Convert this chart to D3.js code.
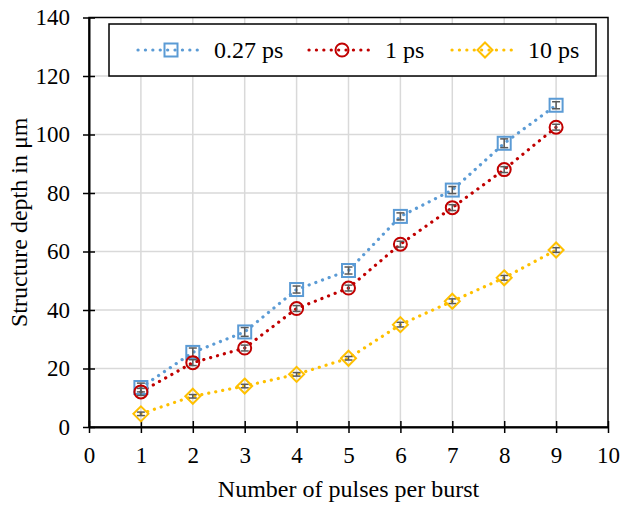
<!DOCTYPE html>
<html>
<head>
<meta charset="utf-8">
<script src="https://cdn.jsdelivr.net/npm/d3@7"></script>
<style>
  body { margin: 0; background: #fff; }
  svg text { font-family: "Liberation Serif", "Times New Roman", serif; fill: #000; }
</style>
</head>
<body>
<div id="chart"></div>
<script>
// data
var pulses = [1, 2, 3, 4, 5, 6, 7, 8, 9];
var depth027 = [13.5, 25.5, 32.5, 47, 53.5, 72, 81, 97, 110];
var depth1 = [12, 22, 27, 40.5, 47.5, 62.5, 75, 88, 102.5];
var depth10 = [4.5, 10.5, 14, 18, 23.5, 35, 43, 51, 60.5];
var err027 = [1.5, 1.5, 1.5, 1.2, 1.2, 1.2, 1.2, 1.5, 1.2];
var err1 = [1.2, 1, 1, 1, 1, 1, 1, 1, 1];
var err10 = [0.6, 0.6, 0.6, 0.6, 0.6, 0.8, 0.8, 0.8, 0.8];
var seriesNames = ["0.27 ps", "1 ps", "10 ps"];
var xTicks = [0, 1, 2, 3, 4, 5, 6, 7, 8, 9, 10];
var yTicks = [0, 20, 40, 60, 80, 100, 120, 140];

var W = 624, H = 505;
var margin = {left: 89, right: 16, top: 17.5, bottom: 78};

var svg = d3.select("#chart").append("svg").attr("width", W).attr("height", H);

var x = d3.scaleLinear().domain([0, 10]).range([margin.left, W - margin.right]);
var y = d3.scaleLinear().domain([0, 140]).range([H - margin.bottom, margin.top]);

// grid
svg.append("g").selectAll("line.vg").data(xTicks.slice(1, -1)).enter().append("line")
  .attr("x1", function(d) { return x(d); }).attr("x2", function(d) { return x(d); })
  .attr("y1", y(0)).attr("y2", y(140))
  .attr("stroke", "#d9d9d9").attr("stroke-width", 1.5);
svg.append("g").selectAll("line.hg").data(yTicks.slice(1, -1)).enter().append("line")
  .attr("x1", x(0)).attr("x2", x(10))
  .attr("y1", function(d) { return y(d); }).attr("y2", function(d) { return y(d); })
  .attr("stroke", "#d9d9d9").attr("stroke-width", 1.5);

// frame
svg.append("rect").attr("x", x(0)).attr("y", y(140))
  .attr("width", x(10) - x(0)).attr("height", y(0) - y(140))
  .attr("fill", "none").attr("stroke", "#000").attr("stroke-width", 1.5);

// axes
var xAxis = d3.axisBottom(x).tickValues(xTicks).tickSizeInner(6).tickSizeOuter(0).tickPadding(14);
var gx = svg.append("g").attr("transform", "translate(0," + y(0) + ")").call(xAxis);
gx.selectAll(".tick line").attr("y1", -6).attr("y2", 6).attr("stroke-width", 1.5);
gx.select(".domain").attr("stroke-width", 2);
gx.selectAll("text").style("font-size", "23px").attr("font-family", null);

var yAxis = d3.axisLeft(y).tickValues(yTicks).tickSizeInner(6).tickSizeOuter(0).tickPadding(13);
var gy = svg.append("g").attr("transform", "translate(" + x(0) + ",0)").call(yAxis);
gy.selectAll(".tick line").attr("x1", -6).attr("x2", 6).attr("stroke-width", 1.5);
gy.select(".domain").attr("stroke-width", 2);
gy.selectAll("text").style("font-size", "23px").attr("font-family", null);

// titles
svg.append("text").attr("x", (x(0) + x(10)) / 2).attr("y", 497)
  .attr("text-anchor", "middle").style("font-size", "24px")
  .text("Number of pulses per burst");
svg.append("text").attr("transform", "translate(27," + (y(70)) + ") rotate(-90)")
  .attr("text-anchor", "middle").style("font-size", "24px")
  .text("Structure depth in μm");

var series = [
  {name: seriesNames[0], vals: depth027, err: err027, color: "#5b9bd5", marker: "square"},
  {name: seriesNames[1], vals: depth1, err: err1, color: "#c00000", marker: "circle"},
  {name: seriesNames[2], vals: depth10, err: err10, color: "#ffc000", marker: "diamond"}
];

function drawMarker(g, type, color) {
  if (type == "square") {
    g.append("rect").attr("x", -6.5).attr("y", -6.5).attr("width", 13).attr("height", 13)
      .attr("fill", "none").attr("stroke", color).attr("stroke-width", 2);
  } else if (type == "circle") {
    g.append("circle").attr("r", 6.5).attr("fill", "none").attr("stroke", color).attr("stroke-width", 2);
  } else {
    g.append("path").attr("d", "M0,-7.5L7.5,0L0,7.5L-7.5,0Z")
      .attr("fill", "none").attr("stroke", color).attr("stroke-width", 2);
  }
}

var line = d3.line()
  .x(function(d, i) { return x(pulses[i]); })
  .y(function(d) { return y(d); });

series.forEach(function(s) {
  svg.append("path").datum(s.vals).attr("d", line)
    .attr("fill", "none").attr("stroke", s.color).attr("stroke-width", 3.2)
    .attr("stroke-linecap", "round").attr("stroke-dasharray", "0.1,7");
});

series.forEach(function(s) {
  s.vals.forEach(function(v, i) {
    var cx = x(pulses[i]);
    var eg = svg.append("g").attr("stroke", "#595959").attr("stroke-width", 1.5);
    eg.append("line").attr("x1", cx).attr("x2", cx).attr("y1", y(v - s.err[i])).attr("y2", y(v + s.err[i]));
    eg.append("line").attr("x1", cx - 4).attr("x2", cx + 4).attr("y1", y(v - s.err[i])).attr("y2", y(v - s.err[i]));
    eg.append("line").attr("x1", cx - 4).attr("x2", cx + 4).attr("y1", y(v + s.err[i])).attr("y2", y(v + s.err[i]));
    var g = svg.append("g").attr("transform", "translate(" + cx + "," + y(v) + ")");
    drawMarker(g, s.marker, s.color);
  });
});

// legend
var lg = svg.append("g");
lg.append("rect").attr("x", 109).attr("y", 24).attr("width", 487).attr("height", 52)
  .attr("fill", "#fff").attr("stroke", "#000").attr("stroke-width", 1.5);
var legX = [138, 309, 452];
series.forEach(function(s, i) {
  var lx = legX[i];
  lg.append("line").attr("x1", lx).attr("x2", lx + 66).attr("y1", 50).attr("y2", 50)
    .attr("stroke", s.color).attr("stroke-width", 3.2)
    .attr("stroke-linecap", "round").attr("stroke-dasharray", "0.1,7.3");
  var g = lg.append("g").attr("transform", "translate(" + (lx + 33) + ",50)");
  drawMarker(g, s.marker, s.color);
  lg.append("text").attr("x", lx + 76).attr("y", 58).style("font-size", "24px").text(s.name);
});
</script>
</body>
</html>
